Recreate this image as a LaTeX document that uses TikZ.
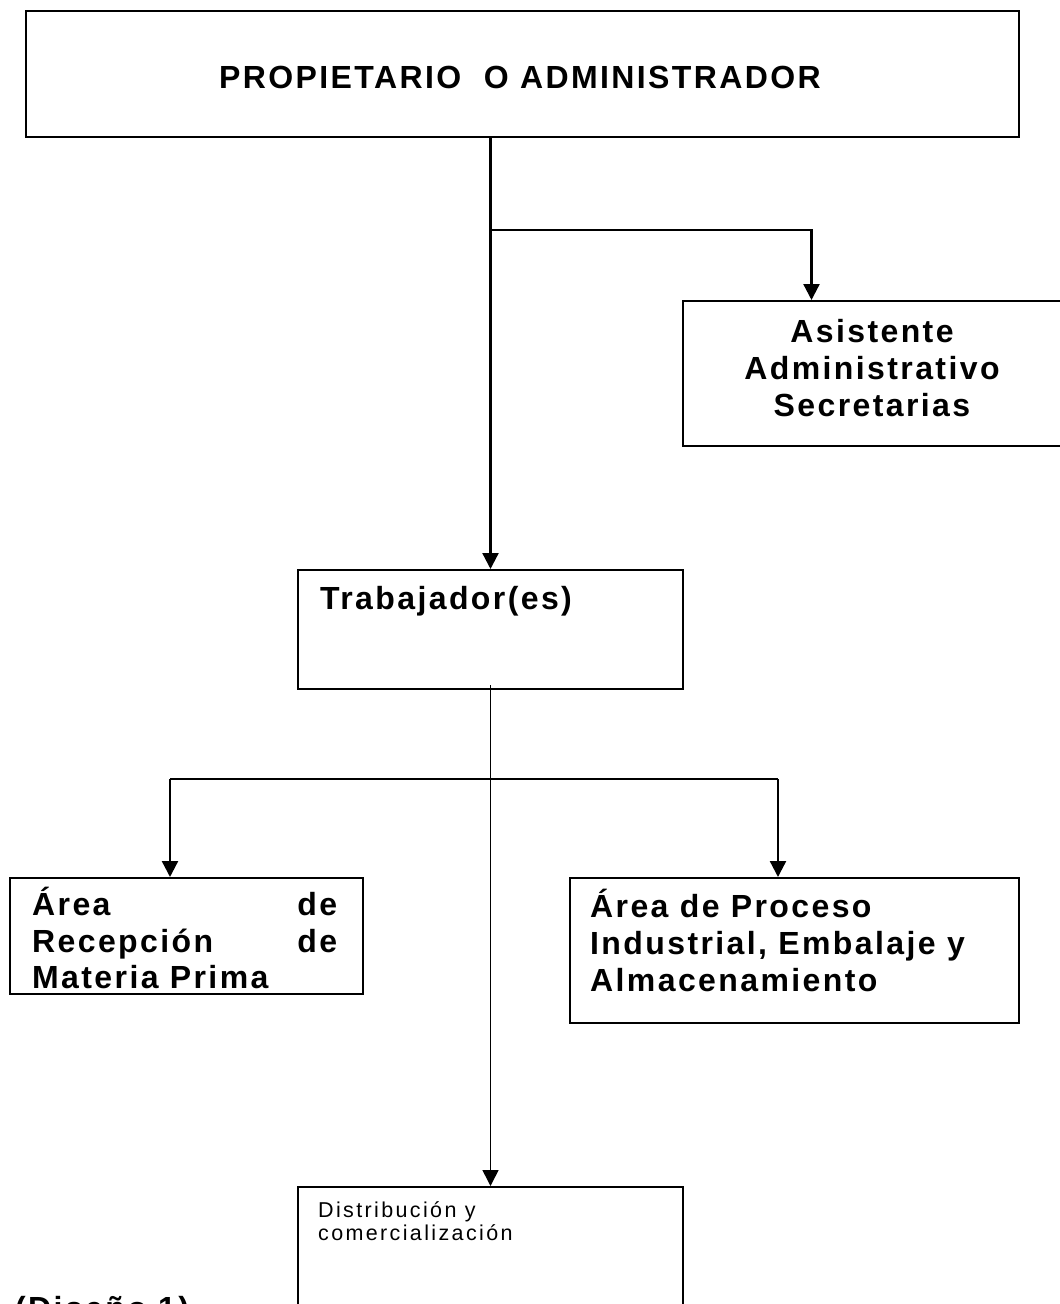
\documentclass[tikz,border=0pt]{standalone}
\usepackage{fontspec}
\setmainfont{Liberation Sans}
\newfontfamily\boldsp[LetterSpace=7.5]{Liberation Sans}
\newfontfamily\plainsp[LetterSpace=11]{Liberation Sans}
\usetikzlibrary{arrows.meta,calc}

\tikzset{
  box/.style={draw, line width=2pt, inner sep=0pt, anchor=north west},
  lbl/.style={inner sep=0pt, anchor=base west, font={\boldsp\bfseries\fontsize{32}{37}\selectfont}},
  lblc/.style={lbl, anchor=base},
  small/.style={inner sep=0pt, anchor=base west, font={\plainsp\fontsize{21.5}{23}\selectfont}},
  link/.style={line width=2.3pt},
  arr/.style={line width=2.3pt, -{Triangle[length=16pt,width=16pt]}},
  thinarr/.style={line width=1.5pt, -{Triangle[length=16pt,width=16pt]}},
}

\begin{document}
\begin{tikzpicture}[x=1pt,y=-1pt]
\useasboundingbox (0,0) rectangle (1060,1304);

% boxes
\node[box, minimum width=993pt, minimum height=126pt] (top) at (25,10) {};
\node[box, minimum width=381pt, minimum height=145pt] (asis) at (682,300) {};
\node[box, minimum width=385pt, minimum height=119pt] (trab) at (297,569) {};
\node[box, minimum width=353pt, minimum height=116pt] (recep) at (9,877) {};
\node[box, minimum width=449pt, minimum height=145pt] (proc) at (569,877) {};
\node[box, minimum width=385pt, minimum height=160pt] (dist) at (297,1186) {};

% texts
\node[lblc] (ttop) at (520,88) {PROPIETARIO\ \ O ADMINISTRADOR};

\node[lblc] (ta1) at (872,342) {Asistente};
\node[lblc] (ta2) at (872,379) {Administrativo};
\node[lblc] (ta3) at (872,416) {Secretarias};

\node[lbl] (ttrab) at (320,609) {Trabajador(es)};

\node[lbl] (tr1) at (32,915) {\makebox[305pt][s]{Área\hfill de}};
\node[lbl] (tr2) at (32,952) {\makebox[305pt][s]{Recepción\hfill de}};
\node[lbl] (tr3) at (32,988) {Materia Prima};

\node[lbl] (tp1) at (590,917) {Área de Proceso};
\node[lbl] (tp2) at (590,954) {Industrial, Embalaje y};
\node[lbl] (tp3) at (590,991) {Almacenamiento};

\node[small] (td1) at (318,1217) {Distribución y};
\node[small] (td2) at (318,1240) {comercialización};

\node[lbl] (fig) at (15,1319) {(Diseño 1)};

% connectors
\coordinate (j1) at (top.south -| trab.north);
\draw[arr] (j1) -- (trab.north);
\coordinate (j2) at ($(j1)+(0,92)$);
\draw[arr] (j2) -| ([xshift=-62pt]asis.north);

\coordinate (j3) at ($(trab.south)+(0,-5)$);
\draw[thinarr] (j3) -- (dist.north);
\coordinate (bl) at ($(recep.north)+(-16.5,-98)$);
\coordinate (br) at ($(proc.north)+(-16.5,-98)$);
\draw[link] (bl) -- (br);
\draw[arr] (bl) -- ([xshift=-16.5pt]recep.north);
\draw[arr] (br) -- ([xshift=-16.5pt]proc.north);
\end{tikzpicture}
\end{document}
